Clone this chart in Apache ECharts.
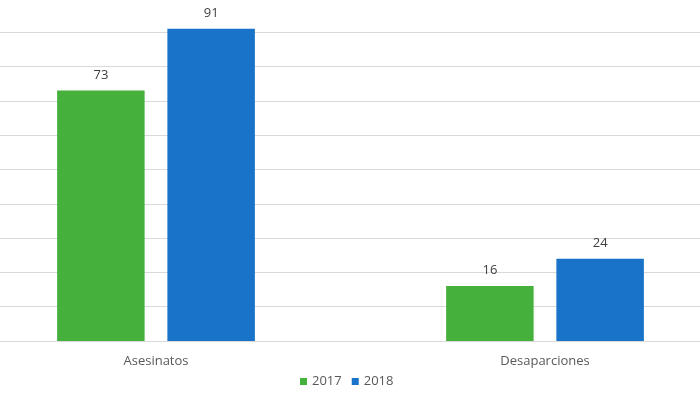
<!DOCTYPE html>
<html>
<head>
<meta charset="utf-8">
<script src="https://cdn.jsdelivr.net/npm/echarts@6/dist/echarts.min.js"></script>
<style>html,body{margin:0;padding:0;background:#fff}#c{width:700px;height:394px}</style>
</head>
<body>
<div id="c"></div>
<script>
var categories = ['Asesinatos', 'Desaparciones'];
var seriesNames = ['2017', '2018'];
var values2017 = [73, 16];
var values2018 = [91, 24];
var colors = ['#45B03C', '#1873C9'];

var chart = echarts.init(document.getElementById('c'), null, {renderer: 'canvas'});
var font = 'Open Sans';
function mk(name, data, color) {
  return {
    name: name, type: 'bar', data: data, barWidth: 87.5, barGap: '26%',
    itemStyle: {color: color},
    label: {show: true, position: 'top', distance: 9, color: '#404040', fontSize: 13, fontFamily: font}
  };
}
chart.setOption({
  animation: false,
  grid: {left: -38.5, width: 778, top: -2, bottom: 53, containLabel: false, outerBoundsMode: 'none'},
  legend: {
    data: seriesNames, bottom: 1, left: 295, icon: 'rect', itemWidth: 7, itemHeight: 7, itemGap: 10,
    textStyle: {color: '#595959', fontSize: 13, fontFamily: font}
  },
  xAxis: {
    type: 'category', data: categories,
    axisLine: {show: true, lineStyle: {color: '#d9d9d9'}}, axisTick: {show: false},
    axisLabel: {color: '#595959', fontSize: 13, fontFamily: font, margin: 14}
  },
  yAxis: {
    type: 'value', min: 0, max: 100, interval: 10,
    axisLabel: {show: false}, axisLine: {show: false}, axisTick: {show: false},
    splitLine: {lineStyle: {color: '#d9d9d9'}}
  },
  series: [mk(seriesNames[0], values2017, colors[0]), mk(seriesNames[1], values2018, colors[1])]
});
</script>
</body>
</html>
